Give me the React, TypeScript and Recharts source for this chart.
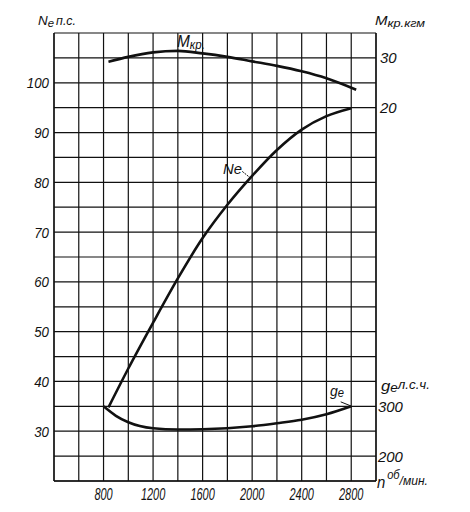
import React from "react";
import {
  LineChart,
  Line,
  XAxis,
  YAxis,
  CartesianGrid,
  ReferenceLine,
} from "recharts";

// n, об/мин
const rpmTicks = [400, 600, 800, 1000, 1200, 1400, 1600, 1800, 2000, 2200, 2400, 2600, 2800, 3000];
const rpmLabels = [800, 1200, 1600, 2000, 2400, 2800];

// Ne, л.с.
const neTicks = [20, 25, 30, 35, 40, 45, 50, 55, 60, 65, 70, 75, 80, 85, 90, 95, 100, 105, 110];
const neLabels = [30, 40, 50, 60, 70, 80, 90, 100];
const neRpm = [840, 1000, 1200, 1400, 1600, 1800, 2000, 2200, 2400, 2600, 2800];
const neValues = [34.8, 42.6, 51.8, 60.7, 68.8, 75.5, 81.3, 86.5, 90.6, 93.3, 94.9];

// Mкр, кгм
const mTicks = [20, 30];
const mRpm = [840, 1000, 1200, 1400, 1600, 1800, 2000, 2200, 2400, 2600, 2840];
const mValues = [29.2, 30.2, 31.1, 31.4, 30.9, 30.2, 29.3, 28.4, 27.3, 25.9, 23.6];

// ge, г/л.с.ч
const geTicks = [200, 300];
const geRpm = [800, 900, 1000, 1200, 1400, 1600, 1800, 2000, 2200, 2400, 2600, 2800];
const geValues = [300, 281, 268, 256, 253.5, 254, 256, 260, 266, 273, 284, 300];

const neData = neRpm.map((rpm, i) => ({ rpm, v: neValues[i] }));
const mData = mRpm.map((rpm, i) => ({ rpm, v: mValues[i] }));
const geData = geRpm.map((rpm, i) => ({ rpm, v: geValues[i] }));

const FONT = "'Liberation Sans', Arial, sans-serif";
const INK = "#111";

const txt = {
  fill: INK,
  fontFamily: FONT,
  fontStyle: "italic",
  lengthAdjust: "spacingAndGlyphs",
} as const;

// tick text squeezed to the narrow drafting lettering of the original
function tickText(
  x: number,
  y: number,
  label: string,
  anchor: "start" | "middle" | "end",
  dy: string,
  size: number,
  perChar: number
) {
  if (!label) return <g />;
  return (
    <text
      x={x}
      y={y}
      dy={dy}
      textAnchor={anchor}
      fontSize={size}
      textLength={label.length * perChar}
      {...txt}
    >
      {label}
    </text>
  );
}

const LeftTick = (p: any) =>
  tickText(p.x, p.y, neLabels.includes(p.payload.value) ? String(p.payload.value) : "", "end", "0.36em", 15, 7.4);

const BottomTick = (p: any) =>
  tickText(p.x, p.y, rpmLabels.includes(p.payload.value) ? String(p.payload.value) : "", "middle", "0.71em", 16, 6.1);

const RightTick = (p: any) => tickText(p.x, p.y, String(p.payload.value), "start", "0.36em", 15, 8.3);

const geLabel = (t: number) => (p: any) =>
  tickText(p.viewBox.x + p.viewBox.width + 2, p.viewBox.y, String(t), "start", "0.36em", 15, 8.3);

export default function App() {
  return (
    <div style={{ position: "absolute", left: 0, top: 0, width: 470, height: 512, background: "#fff" }}>
      <LineChart
        width={470}
        height={512}
        margin={{ top: 33, right: 0, bottom: 0, left: 0 }}
      >
        <CartesianGrid
          yAxisId="ne"
          stroke={INK}
          strokeWidth={1.2}
          horizontalValues={neTicks}
          verticalValues={rpmTicks}
        />
        <XAxis
          type="number"
          dataKey="rpm"
          domain={[400, 3000]}
          ticks={rpmTicks}
          interval={0}
          allowDataOverflow
          height={31}
          tickLine={false}
          tickSize={4}
          tickMargin={4}
          axisLine={{ stroke: INK, strokeWidth: 1.3 }}
          tick={BottomTick}
        />
        <YAxis
          yAxisId="ne"
          domain={[20, 110]}
          ticks={neTicks}
          interval={0}
          width={54}
          tickLine={false}
          tickSize={2}
          tickMargin={3}
          axisLine={{ stroke: INK, strokeWidth: 1.3 }}
          tick={LeftTick}
        />
        <YAxis
          yAxisId="m"
          orientation="right"
          domain={[-55, 35]}
          ticks={mTicks}
          interval={0}
          width={94}
          tickLine={false}
          tickSize={2}
          tickMargin={2}
          axisLine={{ stroke: INK, strokeWidth: 1.3 }}
          tick={RightTick}
        />
        <YAxis yAxisId="ge" orientation="right" domain={[150, 1050]} width={0} hide />
        {geTicks.map((t) => (
          <ReferenceLine key={t} yAxisId="ge" y={t} stroke="none" label={geLabel(t)} />
        ))}
        <Line
          yAxisId="m"
          data={mData}
          dataKey="v"
          type="monotone"
          stroke={INK}
          strokeWidth={2.6}
          dot={false}
          isAnimationActive={false}
        />
        <Line
          yAxisId="ne"
          data={neData}
          dataKey="v"
          type="monotone"
          stroke={INK}
          strokeWidth={2.6}
          dot={false}
          isAnimationActive={false}
        />
        <Line
          yAxisId="ge"
          data={geData}
          dataKey="v"
          type="monotone"
          stroke={INK}
          strokeWidth={2.6}
          dot={false}
          isAnimationActive={false}
        />
        <ReferenceLine
          yAxisId="ne"
          segment={[{ x: 1920, y: 82.2 }, { x: 1985, y: 80.9 }]}
          stroke={INK}
          strokeWidth={1}
          strokeDasharray="2 1"
        />
        <ReferenceLine
          yAxisId="ge"
          segment={[{ x: 2715, y: 309 }, { x: 2795, y: 301 }]}
          stroke={INK}
          strokeWidth={1}
        />
      </LineChart>
      <svg
        width={470}
        height={512}
        style={{ position: "absolute", left: 0, top: 0, pointerEvents: "none" }}
      >
        <text x={38} y={25} fontSize={13} textLength={38} {...txt}>
          N<tspan fontSize={11} dy={2}>e</tspan>
          <tspan fontSize={12} dy={-2} dx={2}>п.с.</tspan>
        </text>
        <text x={375} y={25} fontSize={13} textLength={50} {...txt}>
          M<tspan fontSize={11} dy={2}>кр.кгм</tspan>
        </text>
        <text x={177} y={47} fontSize={16} textLength={28} {...txt}>
          M<tspan fontSize={12} dy={2}>кр.</tspan>
        </text>
        <text x={223} y={174} fontSize={15} textLength={19} {...txt}>
          Ne
        </text>
        <text x={330} y={396} fontSize={15} textLength={14} {...txt}>
          g<tspan fontSize={12} dy={1}>e</tspan>
        </text>
        <text x={381} y={391} fontSize={15} textLength={49} {...txt}>
          g<tspan fontSize={12} dy={1}>e</tspan>
          <tspan fontSize={12} dy={-3}>л.с.ч.</tspan>
        </text>
        <text x={377} y={488} fontSize={16} textLength={51} {...txt}>
          n<tspan fontSize={12} dx={2} dy={-9}>об</tspan>
          <tspan fontSize={13} dy={6}>/мин.</tspan>
        </text>
      </svg>
    </div>
  );
}
